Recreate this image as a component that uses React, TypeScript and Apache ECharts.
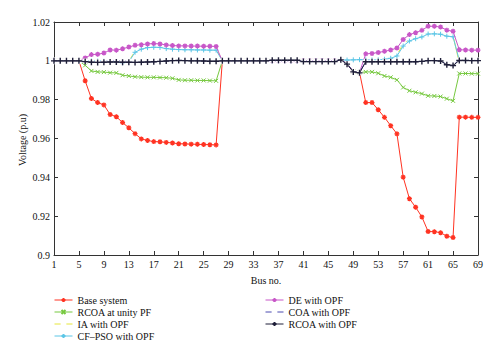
import React, { useEffect, useRef } from "react";
import * as echarts from "echarts";

const buses: string[] = Array.from({ length: 69 }, (_, i) => String(i + 1));

const baseSystem = [
  1, 1, 1, 1, 1,
  0.9897, 0.9806, 0.9785, 0.9773, 0.9724, 0.9712, 0.9682, 0.9655, 0.9625, 0.9598, 0.959, 0.9584, 0.9583, 0.958, 0.9577, 0.9573, 0.9572, 0.9571, 0.957, 0.9569, 0.9568, 0.9567,
  1, 1, 1, 1, 1, 1, 1, 1, 1, 1, 1, 1, 1, 1, 1, 1, 1, 1, 1,
  1.0005, 0.9985, 0.9945, 0.994,
  0.9785, 0.9785, 0.9748, 0.9709, 0.9666, 0.9624, 0.9401, 0.929, 0.9246, 0.9196, 0.9121, 0.912, 0.9115, 0.9097, 0.909,
  0.971, 0.971, 0.9709, 0.9709,
];

const rcoaUnityPF = [
  1, 1, 1, 1, 1,
  0.9977, 0.9948, 0.9943, 0.9942, 0.9939, 0.9938, 0.9926, 0.9922, 0.9918, 0.9916, 0.9915, 0.9915, 0.9914, 0.9913, 0.991, 0.9902, 0.99, 0.99, 0.9899, 0.9899, 0.9898, 0.9897,
  1, 1, 1, 1, 1, 1, 1, 1, 1, 1, 1, 1, 1, 1, 1, 1, 1, 1, 1,
  1.0005, 0.9985, 0.9945, 0.994,
  0.9943, 0.9943, 0.9936, 0.9922, 0.9915, 0.9902, 0.9863, 0.9846, 0.9838, 0.9831, 0.982, 0.9819, 0.9816, 0.9805, 0.9794,
  0.9935, 0.9935, 0.9934, 0.9934,
];

const iaOPF = [
  1, 1, 1, 1, 1,
  1.0003, 1.0003, 1.0003, 1.0003, 1.0001, 0.9995, 0.999, 0.9998, 1.005, 1.0065, 1.0072, 1.0074, 1.0073, 1.0069, 1.0067, 1.0066, 1.0066, 1.0065, 1.0065, 1.0064, 1.0064, 1.0064,
  1, 1, 1, 1, 1, 1, 1, 1, 1, 1, 1, 1, 1, 1, 1, 1, 1, 1, 1,
  1.0005, 1.0003, 1.0003, 1.0004,
  1.0004, 1.0004, 1.0007, 1.0011, 1.0017, 1.003, 1.0087, 1.011, 1.0122, 1.013, 1.0145, 1.0146, 1.0143, 1.0132, 1.0129,
  0.999, 0.999, 0.9989, 0.9989,
];

const cfpsoOPF = [
  1, 1, 1, 1, 1,
  1, 1, 1, 1, 1, 0.9994, 0.999, 0.9995, 1.0044, 1.006, 1.0068, 1.007, 1.0069, 1.0063, 1.006, 1.0058, 1.0057, 1.0057, 1.0056, 1.0056, 1.0055, 1.0055,
  1, 1, 1, 1, 1, 1, 1, 1, 1, 1, 1, 1, 1, 1, 1, 1, 1, 1, 1,
  1.0005, 1.0004, 1.0005, 1.0006,
  1.0005, 1.0004, 1.0005, 1.0008, 1.0013, 1.0025, 1.0076, 1.0102, 1.0114, 1.0123, 1.0138, 1.0139, 1.0137, 1.0127, 1.0124,
  1.0003, 1.0002, 1.0002, 1.0002,
];

const deOPF = [
  1, 1, 1, 1, 1,
  1.0015, 1.0032, 1.0034, 1.004, 1.0056, 1.0055, 1.0062, 1.0071, 1.008, 1.0083, 1.0087, 1.0089, 1.0087, 1.0082, 1.0079, 1.0077, 1.0077, 1.0076, 1.0076, 1.0075, 1.0075, 1.0074,
  1, 1, 1, 1, 1, 1, 1, 1, 1, 1, 1, 1, 1, 1, 1, 1, 1, 1, 1,
  1.0005, 0.9985, 0.9945, 0.994,
  1.0036, 1.0038, 1.0043, 1.0049, 1.0056, 1.0066, 1.011, 1.0135, 1.0145, 1.0157, 1.0178, 1.0178, 1.0174, 1.0158, 1.0152,
  1.0057, 1.0056, 1.0055, 1.0055,
];

const coaOPF = [
  1, 1, 1, 1, 1,
  0.9998, 0.9996, 0.9996, 0.9998, 1.0002, 1.0002, 1.0001, 0.9997, 0.9994, 0.9994, 0.9994, 0.9995, 0.9996, 0.9998, 1.0002, 1.0003, 1.0002, 1.0001, 1.0001, 1, 0.9999, 0.9999,
  1, 1, 1, 1, 1, 1, 1, 1, 1.0003, 1.0003, 1.0003, 1.0003, 1.0003, 0.9997, 0.9997, 0.9997, 0.9997, 0.9997, 0.9997,
  1.0005, 0.9985, 0.9945, 0.994,
  0.9996, 0.9996, 0.9996, 0.9996, 0.9996, 0.9996, 0.9996, 0.9996, 0.9996, 0.9998, 1.0002, 1.0002, 1, 0.9982, 0.9978,
  1.0004, 1.0004, 1.0003, 1.0003,
];

const rcoaOPF = [
  1, 1, 1, 1, 1,
  0.9996, 0.9993, 0.9992, 0.9993, 0.9994, 0.9994, 0.9993, 0.9993, 0.9992, 0.9993, 0.9994, 0.9995, 0.9997, 0.9999, 1.0001, 1.0002, 1.0001, 1, 1, 0.9999, 0.9998, 0.9998,
  1, 1, 1, 1, 1, 1, 1, 1, 1.0003, 1.0003, 1.0003, 1.0003, 1.0003, 0.9996, 0.9996, 0.9996, 0.9996, 0.9996, 0.9996,
  1.0005, 0.9983, 0.9943, 0.9938,
  0.9995, 0.9995, 0.9995, 0.9995, 0.9995, 0.9995, 0.9995, 0.9995, 0.9995, 0.9997, 1.0001, 1.0001, 0.9999, 0.998, 0.9976,
  1.0002, 1.0002, 1.0001, 1.0001,
];

const seriesNames = [
  "Base system",
  "RCOA at unity PF",
  "IA with OPF",
  "CF–PSO with OPF",
  "DE with OPF",
  "COA with OPF",
  "RCOA with OPF",
];

const seriesColors = ["#ff3322", "#77c940", "#e6e63a", "#5cc6e6", "#c857c8", "#4a4ab0", "#1e1e38"];

const FONT = "Liberation Serif";

const PLUS = "path://M5,0L5,10M0,5L10,5";
const CROSS = "path://M0,0L10,10M10,0L0,10";
const STAR = "path://M5,0L5,10M0,5L10,5M1.5,1.5L8.5,8.5M8.5,1.5L1.5,8.5";

export default function App() {
  const ref = useRef<HTMLDivElement>(null);

  useEffect(() => {
    if (!ref.current) return;
    const chart = echarts.init(ref.current, undefined, { renderer: "svg" });

    const mk = (
      idx: number,
      data: number[],
      symbol: string,
      size: number,
      bw: number,
      fill?: string
    ) => {
      const color = seriesColors[idx];
      return {
        name: seriesNames[idx],
        type: "line",
        data,
        symbol,
        symbolSize: size,
        showSymbol: true,
        showAllSymbol: true,
        z: 2 + idx,
        lineStyle: { color, width: 1 },
        itemStyle: { color: fill ?? color, borderColor: color, borderWidth: bw },
        xAxisIndex: 0,
        yAxisIndex: 0,
      };
    };

    const legendItem = (idx: number) =>
      idx === 2 || idx === 5
        ? {
            name: seriesNames[idx],
            itemStyle: { color: "#fff", borderColor: seriesColors[idx], borderWidth: 1 },
          }
        : { name: seriesNames[idx] };

    const axisLine = { lineStyle: { color: "#333", width: 1 } };
    const tickStyle = { lineStyle: { color: "#333", width: 1 } };
    const legendCommon = {
      orient: "vertical",
      top: 295,
      padding: 0,
      itemGap: 2,
      itemWidth: 18,
      itemHeight: 5,
      lineStyle: { width: 1 },
      textStyle: { fontFamily: FONT, fontSize: 10, color: "#111" },
    };

    chart.setOption({
      animation: false,
      backgroundColor: "#fff",
      textStyle: { fontFamily: FONT },
      grid: { left: 54, right: 22, top: 22, bottom: 103, containLabel: false },
      graphic: [
        {
          type: "text",
          x: 22,
          y: 140,
          rotation: Math.PI / 2,
          style: {
            text: "Voltage (p.u)",
            fontFamily: FONT,
            fontSize: 10,
            fill: "#111",
            align: "center",
            verticalAlign: "middle",
          },
        },
      ],
      xAxis: [
        {
          type: "category",
          data: buses,
          boundaryGap: false,
          position: "bottom",
          name: "Bus no.",
          nameLocation: "middle",
          nameGap: 20,
          nameTextStyle: { fontFamily: FONT, fontSize: 10, color: "#111" },
          axisLine,
          axisTick: { inside: true, interval: 3, length: 4, ...tickStyle },
          axisLabel: { interval: 3, fontFamily: FONT, fontSize: 10, color: "#111", margin: 4 },
          splitLine: { show: false },
        },
        {
          type: "category",
          data: buses,
          boundaryGap: false,
          position: "top",
          axisLine,
          axisTick: { inside: true, interval: 3, length: 4, ...tickStyle },
          axisLabel: { show: false },
          splitLine: { show: false },
        },
      ],
      yAxis: [
        {
          type: "value",
          min: 0.9,
          max: 1.02,
          interval: 0.02,
          position: "left",
          axisLine: { show: true, ...axisLine },
          axisTick: { show: true, inside: true, length: 4, ...tickStyle },
          axisLabel: {
            fontFamily: FONT,
            fontSize: 10,
            color: "#111",
            margin: 4,
            formatter: (v: number) => String(+v.toFixed(2)),
          },
          splitLine: { show: false },
        },
        {
          type: "value",
          min: 0.9,
          max: 1.02,
          interval: 0.02,
          position: "right",
          axisLine: { show: true, ...axisLine },
          axisTick: { show: true, inside: true, length: 4, ...tickStyle },
          axisLabel: { show: false },
          splitLine: { show: false },
        },
      ],
      legend: [
        { ...legendCommon, data: [0, 1, 2, 3].map(legendItem), left: 54 },
        { ...legendCommon, data: [4, 5, 6].map(legendItem), left: 265 },
      ],
      series: [
        mk(0, baseSystem, STAR, 5, 1.3),
        mk(1, rcoaUnityPF, CROSS, 4, 1),
        mk(2, iaOPF, "emptyCircle", 5, 1, "#fff"),
        mk(3, cfpsoOPF, PLUS, 5, 1),
        mk(4, deOPF, STAR, 5, 1.3),
        mk(5, coaOPF, "emptyCircle", 4, 1, "#fff"),
        mk(6, rcoaOPF, PLUS, 6, 1.4),
      ],
    });

    return () => chart.dispose();
  }, []);

  return (
    <div
      ref={ref}
      style={{ position: "fixed", left: 0, top: 0, width: 500, height: 358, background: "#fff" }}
    />
  );
}
